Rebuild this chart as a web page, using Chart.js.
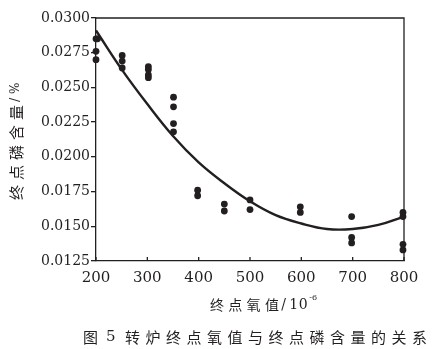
<!DOCTYPE html>
<html>
<head>
<meta charset="utf-8">
<script src="https://cdn.jsdelivr.net/npm/chart.js@4/dist/chart.umd.min.js"></script>
<style>
  html, body { margin: 0; padding: 0; background: #fff; }
  #wrap { width: 435px; height: 349px; position: relative; }
</style>
</head>
<body>
<div id="wrap"><canvas id="chart"></canvas></div>
<script>
// Measured samples: end-point oxygen (10^-6) vs end-point phosphorus (%)
const oxygen = [200, 203, 200, 200,
                251, 251, 251,
                302, 302, 302, 302,
                351, 351, 351, 351,
                398, 398,
                450, 450,
                500, 500,
                598, 598,
                698, 698, 698,
                798, 798, 798, 798];
const phosphorus = [0.0285, 0.0285, 0.0276, 0.0270,
                    0.0273, 0.0269, 0.0264,
                    0.0265, 0.0263, 0.0259, 0.0257,
                    0.0243, 0.0236, 0.0224, 0.0218,
                    0.0176, 0.0172,
                    0.0166, 0.0161,
                    0.0169, 0.0162,
                    0.0164, 0.0160,
                    0.0157, 0.0142, 0.0138,
                    0.0160, 0.0157, 0.0137, 0.0133];

// Fitted trend curve
const fitOxygen = [200, 250, 300, 350, 400, 450, 500, 550, 600, 650, 700, 750, 800];
const fitPhosphorus = [0.0291, 0.0263, 0.0238, 0.0215, 0.0196, 0.0181, 0.0168,
                       0.0158, 0.0152, 0.0148, 0.0148, 0.0151, 0.0157];

const xTicks = [200, 300, 400, 500, 600, 700, 800];
const yTicks = [0.0125, 0.0150, 0.0175, 0.0200, 0.0225, 0.0250, 0.0275, 0.0300];

const INK = '#231f20';
const CJK = '"Noto Sans CJK SC", "Noto Sans", sans-serif';

// draw a string one glyph at a time with a fixed advance
function spaced(ctx, text, x, y, advance) {
    for (const ch of text) {
        ctx.fillText(ch, x, y);
        x += advance;
    }
    return x;
}

const decorations = {
    id: 'decorations',
    afterDraw(chart) {
        const ctx = chart.ctx;
        const area = chart.chartArea;
        const xs = chart.scales.x;
        ctx.save();
        ctx.strokeStyle = INK;
        ctx.lineWidth = 1.3;

        // top and right frame
        ctx.beginPath();
        ctx.moveTo(area.left, area.top);
        ctx.lineTo(area.right, area.top);
        ctx.lineTo(area.right, area.bottom);
        ctx.stroke();

        // inward ticks on the x axis
        xTicks.forEach(v => {
            const px = xs.getPixelForValue(v);
            ctx.beginPath();
            ctx.moveTo(px, area.bottom);
            ctx.lineTo(px, area.bottom - 4);
            ctx.stroke();
        });

        ctx.fillStyle = INK;
        ctx.textBaseline = 'middle';
        ctx.textAlign = 'left';

        // x axis title with superscript exponent
        ctx.font = '14px ' + CJK;
        let x = spaced(ctx, '终点氧值', 210, 305, 18.3);
        ctx.font = '14px "DejaVu Serif", serif';
        ctx.fillText('/', x - 2, 305);
        spaced(ctx, '10', x + 6, 305, 9.5);
        ctx.font = '8px "DejaVu Serif", serif';
        ctx.fillText('-6', x + 26, 298);

        // rotated y axis title
        ctx.save();
        ctx.translate(16, 200);
        ctx.rotate(-Math.PI / 2);
        ctx.font = '15px ' + CJK;
        x = spaced(ctx, '终点磷含量', 0, 0, 20);
        ctx.font = '13px "DejaVu Serif", serif';
        ctx.fillText('/', x - 2, 0);
        ctx.font = '12px "DejaVu Serif", serif';
        ctx.fillText('%', x + 6, 0);
        ctx.restore();

        // figure caption
        ctx.font = '15px ' + CJK;
        ctx.fillText('图', 83, 337);
        ctx.font = '15px "DejaVu Serif", serif';
        ctx.fillText('5', 106, 337);
        ctx.font = '15px ' + CJK;
        spaced(ctx, '转炉终点氧值与终点磷含量的关系', 125, 337, 20.5);

        ctx.restore();
    }
};

new Chart(document.getElementById('chart'), {
    type: 'scatter',
    data: {
        datasets: [
            {
                type: 'line',
                data: fitOxygen.map((v, i) => ({ x: v, y: fitPhosphorus[i] })),
                borderColor: INK,
                borderWidth: 2.4,
                pointRadius: 0,
                tension: 0.4,
                fill: false,
                clip: false
            },
            {
                data: oxygen.map((v, i) => ({ x: v, y: phosphorus[i] })),
                backgroundColor: INK,
                borderColor: INK,
                borderWidth: 0,
                pointRadius: 3.4,
                clip: false
            }
        ]
    },
    options: {
        responsive: true,
        maintainAspectRatio: false,
        animation: false,
        layout: { padding: { top: 18, right: 31, left: 0, bottom: 0 } },
        plugins: {
            legend: { display: false },
            tooltip: { enabled: false }
        },
        scales: {
            x: {
                type: 'linear',
                min: 200,
                max: 800,
                afterBuildTicks: s => { s.ticks = xTicks.map(v => ({ value: v })); },
                afterFit: s => { s.height = 88; },
                grid: { display: false, drawTicks: false },
                border: { color: INK, width: 1.3 },
                ticks: {
                    padding: 8,
                    color: INK,
                    font: { family: '"DejaVu Serif", serif', size: 15 },
                    maxRotation: 0
                }
            },
            y: {
                min: 0.0125,
                max: 0.0300,
                afterBuildTicks: s => { s.ticks = yTicks.map(v => ({ value: v })); },
                afterFit: s => { s.width = 96; },
                grid: { drawOnChartArea: false, drawTicks: true, tickLength: 5, color: INK, lineWidth: 1.3 },
                border: { color: INK, width: 1.3 },
                ticks: {
                    padding: 1,
                    color: INK,
                    font: { family: '"DejaVu Serif", serif', size: 14 },
                    callback: v => v.toFixed(4)
                }
            }
        }
    },
    plugins: [decorations]
});
</script>
</body>
</html>
